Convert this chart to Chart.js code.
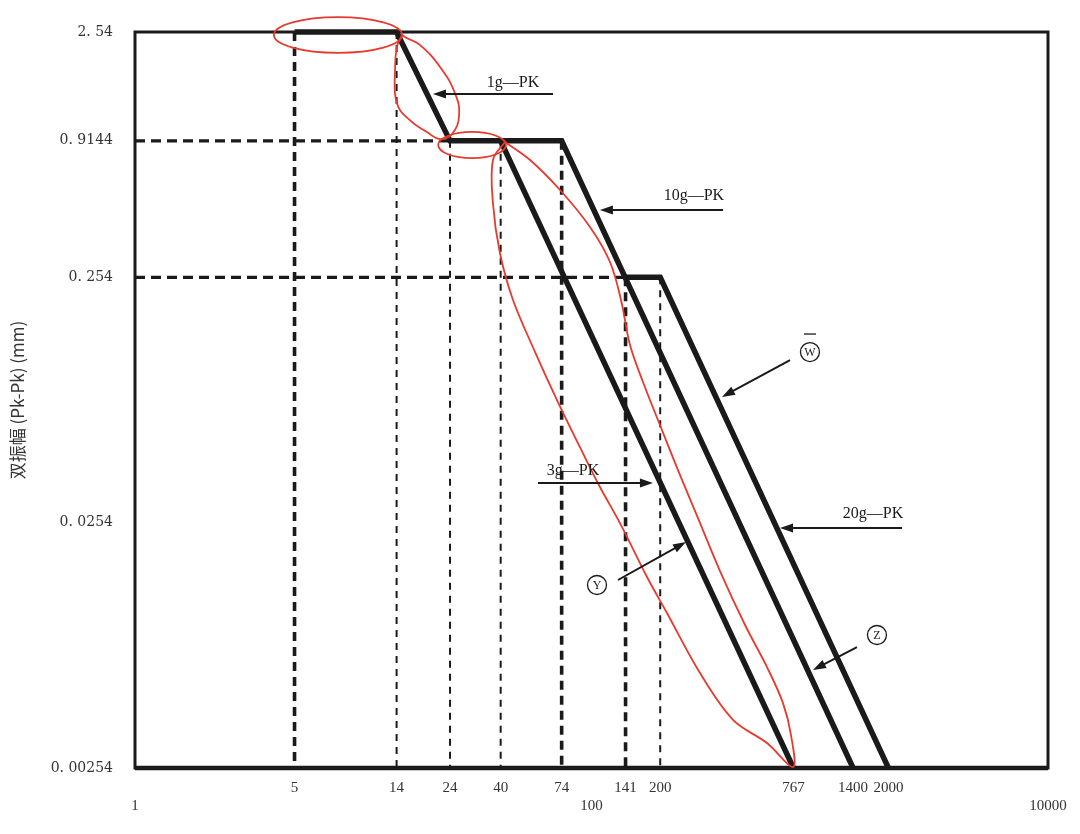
<!DOCTYPE html>
<html>
<head>
<meta charset="utf-8">
<script src="https://cdn.jsdelivr.net/npm/chart.js@4.4.1/dist/chart.umd.min.js"></script>
<style>
  html, body { margin: 0; padding: 0; background: #fff; }
  #wrap { width: 1080px; height: 834px; }
</style>
</head>
<body>
<div id="wrap"><canvas id="chart"></canvas></div>
<script>
// breakpoints of the three envelopes: frequency (Hz) / double amplitude (mm)
const freqA = [5, 14, 24, 74, 1400]
const ampA = [2.54, 2.54, 0.9144, 0.9144, 0.00254]
const freqB = [40, 767]
const ampB = [0.9144, 0.00254]
const freqC = [141, 200, 2000]
const ampC = [0.254, 0.254, 0.00254]

// dashed guides
const guideFreq = [5, 14, 24, 40, 74, 141, 200]
const guideTop = [2.54, 2.54, 0.9144, 0.9144, 0.9144, 0.254, 0.254]
const heavyGuides = [5, 74, 141]
const levelAmp = [0.9144, 0.254]
const levelEnd = [24, 141]

// ticks
const xTicks = [5, 14, 24, 40, 74, 141, 200, 767, 1400, 2000]
const xDecades = [1, 100, 10000]
const yTicks = [0.00254, 0.0254, 0.254, 0.9144, 2.54]
const yTickLabels = ["0. 00254", "0. 0254", "0. 254", "0. 9144", "2. 54"]

// arrow notes (freq, amp)
const noteText = ["1g—PK", "10g—PK", "3g—PK", "20g—PK"]
const noteAt = [[45.3, 1.574], [281, 0.545], [83, 0.0412], [1711, 0.0275]]
const circleText = ["W", "Y", "Z"]
const circleAt = [[906, 0.126], [105.7, 0.01415], [1781, 0.00885]]
const arrowFrom = [[67.8, 1.419], [377, 0.478], [58.3, 0.0369], [2293, 0.02415], [741, 0.1169], [130.6, 0.01483], [1456, 0.0079]]
const arrowTo = [[20.2, 1.419], [108.9, 0.478], [185.9, 0.0369], [669.6, 0.02415], [373, 0.0826], [259.4, 0.02118], [934, 0.00637]]

// hand drawn red marks
const ringTop = [[4.06, 14.8], [2.09, 2.92]]
const ring24 = [[21.3, 42.2], [0.778, 0.994]]
const loop1g = [[14.8, 2.47], [14.05, 2.21], [13.78, 1.78], [14.05, 1.30], [16.0, 1.11], [19.0, 0.994], [21.7, 0.93],
  [24.5, 0.975], [26.3, 1.166], [25.2, 1.433], [21.7, 1.83], [17.7, 2.25], [15.5, 2.40], [14.8, 2.47]]
const loopBig = [[41.8, 0.905], [53.8, 0.764], [72.8, 0.5765], [98.5, 0.4074], [120.5, 0.2933], [134.7, 0.2053],
  [147.5, 0.1346], [168.1, 0.0951], [199.5, 0.0635], [239.3, 0.0416], [292.8, 0.02653], [365.6, 0.01613],
  [470.6, 0.00972], [587.4, 0.00655], [690.2, 0.00467], [748.2, 0.00346], [763.6, 0.00256],
  [587.4, 0.00321], [416.9, 0.00399], [298.8, 0.00619], [214.1, 0.01088], [175.1, 0.01525], [133.3, 0.0253],
  [108.9, 0.0355], [89.0, 0.0516], [70.6, 0.0803], [56.6, 0.126], [45.3, 0.2053], [39.7, 0.319], [37.0, 0.510],
  [37.0, 0.764], [41.8, 0.905]]

const ink = "#1a1a1a"
const red = "#e8392f"
const yMin = yTicks[0]

const pts = (fs, as) => fs.map((f, i) => ({ x: f, y: as[i] }))
const pairs = list => list.map(p => ({ x: p[0], y: p[1] }))

let datasets = []

//Red loops (on top)
datasets.push({ data: pairs(loop1g), borderColor: red, borderWidth: 1.8, tension: 0.45, order: -1, clip: false })
datasets.push({ data: pairs(loopBig), borderColor: red, borderWidth: 1.8, tension: 0.35, order: -1, clip: false })

//Envelopes
;[[freqA, ampA], [freqB, ampB], [freqC, ampC]].forEach(([f, a]) => {
  datasets.push({ data: pts(f, a), borderColor: ink, borderWidth: 5.5, borderJoinStyle: "miter", tension: 0, clip: 8 })
})

//Vertical guides
guideFreq.forEach((f, i) => {
  const heavy = heavyGuides.includes(f)
  datasets.push({
    data: [{ x: f, y: guideTop[i] }, { x: f, y: yMin }],
    borderColor: ink, borderWidth: heavy ? 3.6 : 2, borderDash: heavy ? [9, 6] : [7, 6], clip: 4
  })
})

//Horizontal guides
levelAmp.forEach((a, i) => {
  datasets.push({ data: [{ x: 1, y: a }, { x: levelEnd[i], y: a }], borderColor: ink, borderWidth: 3.2, borderDash: [10, 6], clip: 4 })
})

function drawArrow(ctx, x0, y0, x1, y1) {
  const ang = Math.atan2(y1 - y0, x1 - x0)
  const c = Math.cos(ang), s = Math.sin(ang)
  ctx.beginPath()
  ctx.moveTo(x0, y0)
  ctx.lineTo(x1 - 10 * c, y1 - 10 * s)
  ctx.stroke()
  ctx.beginPath()
  ctx.moveTo(x1, y1)
  ctx.lineTo(x1 - 13 * c + 4.5 * s, y1 - 13 * s - 4.5 * c)
  ctx.lineTo(x1 - 13 * c - 4.5 * s, y1 - 13 * s + 4.5 * c)
  ctx.closePath()
  ctx.fill()
}

const sketchNotes = {
  id: "sketchNotes",
  beforeDatasetsDraw(chart) {
    const { ctx, chartArea: ca } = chart
    ctx.save()
    ctx.strokeStyle = ink
    ctx.lineWidth = 3
    ctx.strokeRect(ca.left, ca.top, ca.right - ca.left, ca.bottom - ca.top)
    ctx.lineWidth = 4.5
    ctx.beginPath()
    ctx.moveTo(ca.left, ca.bottom)
    ctx.lineTo(ca.right, ca.bottom)
    ctx.stroke()
    ctx.restore()
  },
  afterDatasetsDraw(chart) {
    const { ctx, scales: { x, y } } = chart
    const px = p => [x.getPixelForValue(p[0]), y.getPixelForValue(p[1])]
    ctx.save()

    // red rings
    ctx.strokeStyle = red
    ctx.lineWidth = 1.8
    ;[ringTop, ring24].forEach(r => {
      const x0 = x.getPixelForValue(r[0][0]), x1 = x.getPixelForValue(r[0][1])
      const y0 = y.getPixelForValue(r[1][1]), y1 = y.getPixelForValue(r[1][0])
      ctx.beginPath()
      ctx.ellipse((x0 + x1) / 2, (y0 + y1) / 2, (x1 - x0) / 2, (y1 - y0) / 2, 0, 0, Math.PI * 2)
      ctx.stroke()
    })

    // arrows
    ctx.strokeStyle = ink
    ctx.fillStyle = ink
    ctx.lineWidth = 2
    arrowFrom.forEach((p, i) => {
      const [x0, y0] = px(p), [x1, y1] = px(arrowTo[i])
      drawArrow(ctx, x0, y0, x1, y1)
    })

    // labels
    ctx.font = "16px 'Liberation Serif'"
    ctx.textAlign = "center"
    ctx.textBaseline = "middle"
    noteText.forEach((t, i) => {
      const [cx, cy] = px(noteAt[i])
      ctx.fillText(t, cx, cy)
    })

    // circled letters
    ctx.lineWidth = 1.3
    ctx.font = "12px 'Liberation Serif'"
    circleText.forEach((t, i) => {
      const [cx, cy] = px(circleAt[i])
      ctx.beginPath()
      ctx.arc(cx, cy, 9.5, 0, Math.PI * 2)
      ctx.stroke()
      ctx.fillText(t, cx, cy + 1)
      if (t == "W") {
        ctx.beginPath()
        ctx.moveTo(cx - 6, cy - 18)
        ctx.lineTo(cx + 6, cy - 18)
        ctx.stroke()
      }
    })
    ctx.restore()
  }
}

const tickFont = { family: "'Liberation Serif'", size: 15 }
const allXTicks = [...xTicks, ...xDecades].sort((a, b) => a - b)

new Chart(document.getElementById("chart"), {
  type: "line",
  data: { datasets },
  options: {
    responsive: true,
    maintainAspectRatio: false,
    animation: false,
    layout: { padding: { top: 32, right: 32, left: 0, bottom: 0 } },
    elements: { point: { radius: 0 } },
    plugins: { legend: { display: false }, tooltip: { enabled: false } },
    scales: {
      x: {
        type: "logarithmic", position: "bottom", min: 1, max: 10000,
        grid: { display: false, drawTicks: false }, border: { display: false },
        afterBuildTicks: s => { s.ticks = allXTicks.map(v => ({ value: v })) },
        afterFit: s => { s.height = 66 },
        ticks: {
          autoSkip: false, maxRotation: 0, padding: 11, color: "#333", font: tickFont,
          // decade labels sit one line lower
          callback: (v, i) => xDecades.includes(allXTicks[i]) ? ["", String(allXTicks[i])] : String(allXTicks[i])
        }
      },
      y: {
        type: "logarithmic", min: yMin, max: 2.54,
        grid: { display: false, drawTicks: false }, border: { display: false },
        afterBuildTicks: s => { s.ticks = yTicks.map(v => ({ value: v })) },
        afterFit: s => { s.width = 135 },
        ticks: { autoSkip: false, padding: 22, color: "#333", font: { family: "'DejaVu Serif'", size: 14 }, callback: (v, i) => yTickLabels[i] },
        title: { display: true, text: "双振幅 (Pk-Pk) (mm)", color: "#333", padding: { top: 7 }, font: { family: "'Noto Sans CJK SC'", size: 17 } }
      }
    }
  },
  plugins: [sketchNotes]
})
</script>
</body>
</html>
